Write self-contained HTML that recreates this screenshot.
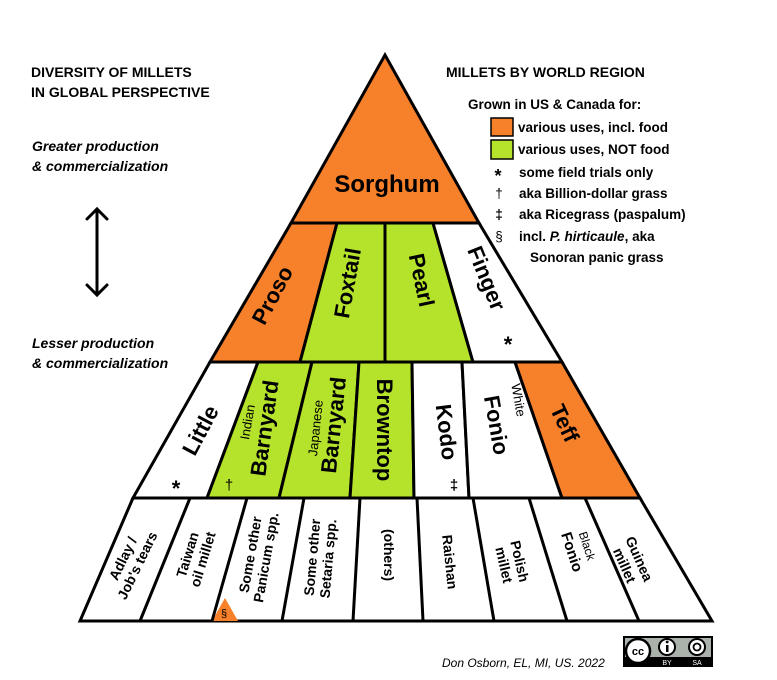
<!DOCTYPE html>
<html><head><meta charset="utf-8"><style>
html,body{margin:0;padding:0;background:#fff;}
svg{display:block;}
text{font-family:"Liberation Sans",Arial,sans-serif;}
</style></head><body>
<svg width="777" height="680" viewBox="0 0 777 680" xmlns="http://www.w3.org/2000/svg">
<g stroke="#000" stroke-width="3" stroke-linejoin="miter">
<polygon points="385,55 479,223 291,223" fill="#f7802a"/>
<polygon points="291,223 337,223 300,362 210,362" fill="#f7802a"/>
<polygon points="337,223 385,223 385,362 300,362" fill="#b5e22a"/>
<polygon points="385,223 433,223 473,362 385,362" fill="#b5e22a"/>
<polygon points="433,223 479,223 562,362 473,362" fill="#fff"/>
<polygon points="210,362 258,362 207,498 133,498" fill="#fff"/>
<polygon points="258,362 312,362 279,498 207,498" fill="#b5e22a"/>
<polygon points="312,362 359,362 350,498 279,498" fill="#b5e22a"/>
<polygon points="359,362 412,362 414,498 350,498" fill="#b5e22a"/>
<polygon points="412,362 462,362 469,498 414,498" fill="#fff"/>
<polygon points="462,362 515,362 562,498 469,498" fill="#fff"/>
<polygon points="515,362 562,362 640,498 562,498" fill="#f7802a"/>
<polygon points="133,498 640,498 712,621 80,621" fill="#fff"/>
</g>
<polygon points="225,598 238,621 212,621" fill="#f7802a"/>
<g stroke="#000" stroke-width="3">
<line x1="190" y1="498" x2="140" y2="621"/>
<line x1="247" y1="498" x2="212" y2="621"/>
<line x1="304" y1="498" x2="282" y2="621"/>
<line x1="360" y1="498" x2="353" y2="621"/>
<line x1="417" y1="498" x2="423" y2="621"/>
<line x1="473" y1="498" x2="494" y2="621"/>
<line x1="529" y1="498" x2="567" y2="621"/>
<line x1="585" y1="498" x2="639" y2="621"/>
</g>

<g font-weight="bold" fill="#000" text-anchor="middle">
<text x="387" y="192" font-size="24">Sorghum</text>
<text transform="translate(272,295) rotate(-62)" font-size="22" dy="8">Proso</text>
<text transform="translate(347,283) rotate(-80)" font-size="22" dy="8">Foxtail</text>
<text transform="translate(422,280) rotate(78)" font-size="22" dy="8">Pearl</text>
<text transform="translate(487,278) rotate(68)" font-size="22" dy="8">Finger</text>
<text x="508" y="352" font-size="22">*</text>

<text transform="translate(200,430) rotate(-62)" font-size="22" dy="8">Little</text>
<text x="176" y="496" font-size="22">*</text>
<text transform="translate(264,428) rotate(-82)" font-size="22" dy="8">Barnyard</text>
<text transform="translate(333,425) rotate(-84)" font-size="22" dy="8">Barnyard</text>
<text transform="translate(385,430) rotate(90)" font-size="22" dy="8">Browntop</text>
<text transform="translate(447,432) rotate(83)" font-size="22" dy="8">Kodo</text>
<text transform="translate(497,425) rotate(80)" font-size="22" dy="8">Fonio</text>
<text transform="translate(565,423) rotate(65)" font-size="22" dy="8">Teff</text>
</g>
<g fill="#000" text-anchor="middle" font-size="13">
<text transform="translate(247,422) rotate(-80)" dy="5">Indian</text>
<text transform="translate(315,428) rotate(-84)" dy="5">Japanese</text>
<text transform="translate(519,400) rotate(80)" dy="5">White</text>
<text x="229" y="490" font-size="15">†</text>
<text x="454" y="490" font-size="15" font-weight="bold">‡</text>
</g>

<g font-weight="bold" fill="#000" text-anchor="middle" font-size="14">
<text transform="translate(130,562) rotate(-64)"><tspan x="0" y="-3">Adlay /</tspan><tspan x="0" y="13">Job's tears</tspan></text>
<text transform="translate(195,557) rotate(-73)"><tspan x="0" y="-3">Taiwan</tspan><tspan x="0" y="13">oil millet</tspan></text>
<text transform="translate(258,556) rotate(-80)"><tspan x="0" y="-3">Some other</tspan><tspan x="0" y="13">Panicum spp.</tspan></text>
<text transform="translate(320,558) rotate(-85)"><tspan x="0" y="-3">Some other</tspan><tspan x="0" y="13">Setaria spp.</tspan></text>
<text transform="translate(389,555) rotate(90)" dy="5">(others)</text>
<text transform="translate(450,562) rotate(84)" dy="5">Raishan</text>
<text transform="translate(512,563) rotate(77)"><tspan x="0" y="-3">Polish</tspan><tspan x="0" y="13">millet</tspan></text>
<text transform="translate(572,552) rotate(72)" dy="5" font-size="15">Fonio</text>
<text transform="translate(632,562) rotate(66)"><tspan x="0" y="-3">Guinea</tspan><tspan x="0" y="13">millet</tspan></text>
</g>
<text transform="translate(587,546) rotate(72)" text-anchor="middle" font-size="12" dy="4">Black</text>
<text x="224" y="617" font-size="11" text-anchor="middle">§</text>

<g font-weight="bold" font-size="14" fill="#000">
<text x="31" y="77">DIVERSITY OF MILLETS</text>
<text x="31" y="97">IN GLOBAL PERSPECTIVE</text>
</g>
<g font-weight="bold" font-style="italic" font-size="14" fill="#000">
<text x="32" y="151">Greater production</text>
<text x="32" y="171">&amp; commercialization</text>
<text x="32" y="348">Lesser production</text>
<text x="32" y="368">&amp; commercialization</text>
</g>
<g stroke="#000" stroke-width="3" fill="none" stroke-linecap="round">
<line x1="97" y1="209" x2="97" y2="295"/>
<polyline points="87,219 97,209 107,219"/>
<polyline points="87,285 97,295 107,285"/>
</g>

<text x="446" y="77" font-weight="bold" font-size="14">MILLETS BY WORLD REGION</text>
<text x="468" y="109" font-weight="bold" font-size="13.5">Grown in US &amp; Canada for:</text>
<rect x="491" y="118" width="22" height="18" fill="#f7802a" stroke="#000" stroke-width="1.5"/>
<rect x="491" y="140" width="22" height="19" fill="#b5e22a" stroke="#000" stroke-width="1.5"/>
<g font-weight="bold" font-size="13.5" fill="#000">
<text x="518" y="132">various uses, incl. food</text>
<text x="518" y="154">various uses, NOT food</text>
<text x="519" y="177">some field trials only</text>
<text x="519" y="198">aka Billion-dollar grass</text>
<text x="519" y="219">aka Ricegrass (paspalum)</text>
<text x="519" y="241">incl. <tspan font-style="italic">P. hirticaule</tspan>, aka</text>
<text x="530" y="262">Sonoran panic grass</text>
<text x="498" y="182" text-anchor="middle" font-size="18">*</text>
<text x="499" y="198" text-anchor="middle" font-weight="normal">†</text>
<text x="499" y="219" text-anchor="middle">‡</text>
<text x="499" y="241" text-anchor="middle" font-weight="normal">§</text>
</g>

<text x="442" y="667" font-style="italic" font-size="12">Don Osborn, EL, MI, US. 2022</text>
<rect x="623" y="636" width="90" height="31" fill="#000"/>
<rect x="625" y="638" width="86" height="19" fill="#aab2ab"/>
<circle cx="638" cy="651" r="12" fill="#fff" stroke="#000" stroke-width="2.5"/>
<text x="638" y="655" text-anchor="middle" font-size="11" font-weight="bold">cc</text>
<circle cx="667" cy="647" r="8" fill="#fff" stroke="#000" stroke-width="2"/>
<rect x="666" y="645" width="2.5" height="7" fill="#000"/><circle cx="667.2" cy="642" r="1.4" fill="#000"/>
<circle cx="697" cy="647" r="8" fill="#fff" stroke="#000" stroke-width="2"/>
<circle cx="697" cy="647" r="3.5" fill="none" stroke="#000" stroke-width="1.8"/>
<text x="667" y="665" text-anchor="middle" font-size="7" fill="#fff">BY</text>
<text x="697" y="665" text-anchor="middle" font-size="7" fill="#fff">SA</text>
</svg>
</body></html>
